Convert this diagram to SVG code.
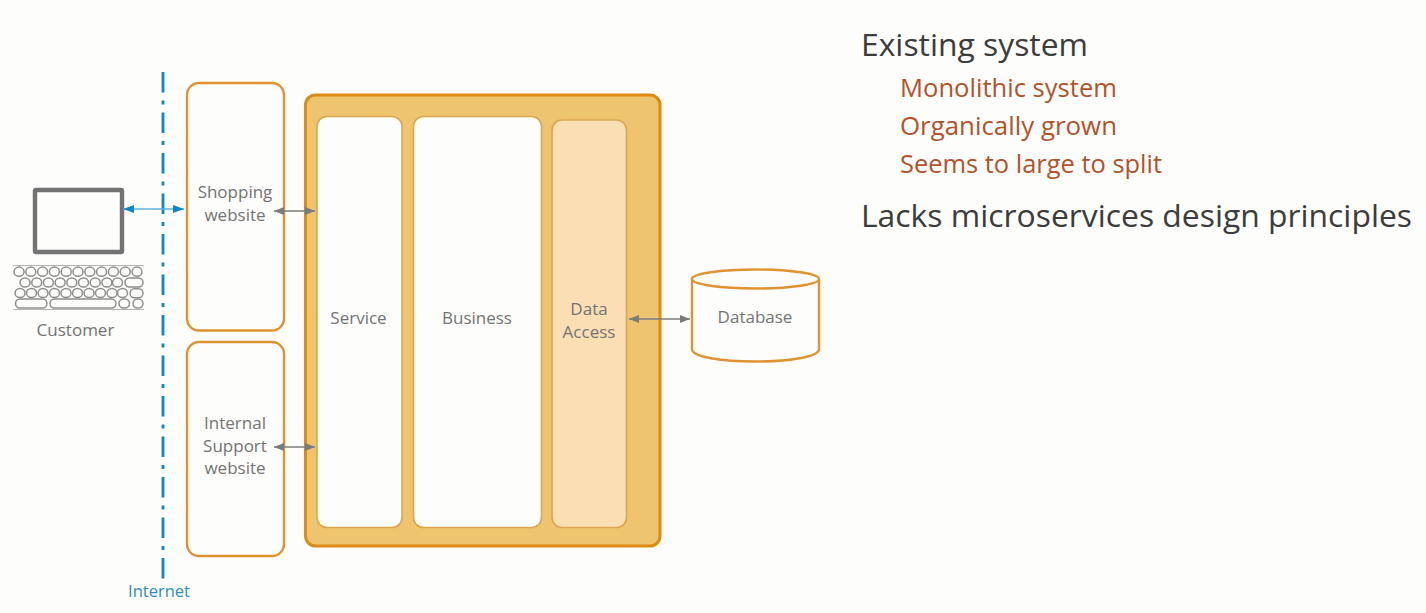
<svg xmlns="http://www.w3.org/2000/svg" width="1426" height="613" viewBox="0 0 1426 613">
<style>
text{font-family:"Open Sans","Noto Sans","Liberation Sans",sans-serif}
.l{font-size:17px;fill:#737373;text-anchor:middle}
.box{fill:#fdfdfc;stroke:#e0922f;stroke-width:2.4}
.inner{fill:#fdfdfc;stroke:#dca64c;stroke-width:1.6}
.h{font-size:31.500px;fill:#3c3c3c}
.s{font-size:25.700px;fill:#b2532a}
.g{stroke:#7b7b7b;stroke-width:1.500;fill:none;marker-start:url(#ga);marker-end:url(#ga)}
.k{fill:#fdfdfc;stroke:#8e8e8e;stroke-width:1.500}
</style>
<defs>
<marker id="ga" viewBox="0 0 10 8" refX="10" refY="4" markerWidth="10" markerHeight="8" markerUnits="userSpaceOnUse" orient="auto-start-reverse"><path d="M0 0L10 4L0 8z" fill="#7b7b7b"/></marker>
<marker id="ba" viewBox="0 0 11 8" refX="11" refY="4" markerWidth="11" markerHeight="8" markerUnits="userSpaceOnUse" orient="auto-start-reverse"><path d="M0 0L11 4L0 8z" fill="#0f86c6"/></marker>
<ellipse id="key" rx="5" ry="4.600" class="k"/>
</defs>
<rect width="1426" height="613" fill="#fdfdfc"/>
<g id="customer">
<rect x="35" y="190" width="87" height="62" fill="#fdfdfc" stroke="#737373" stroke-width="4.400" rx="1"/>
<g id="keyboard">
<path d="M13 265.500H144M13 309.500H144" stroke="#b5b5b5" stroke-width="1.200"/>
<use href="#key" x="19" y="271.700"/><use href="#key" x="30.800" y="271.700"/><use href="#key" x="42.600" y="271.700"/><use href="#key" x="54.400" y="271.700"/><use href="#key" x="66.200" y="271.700"/><use href="#key" x="78" y="271.700"/><use href="#key" x="89.800" y="271.700"/><use href="#key" x="101.600" y="271.700"/><use href="#key" x="113.400" y="271.700"/><use href="#key" x="125.200" y="271.700"/><use href="#key" x="137" y="271.700"/>
<use href="#key" x="25" y="282.500"/><use href="#key" x="36.700" y="282.500"/><use href="#key" x="48.400" y="282.500"/><use href="#key" x="60.100" y="282.500"/><use href="#key" x="71.800" y="282.500"/><use href="#key" x="83.500" y="282.500"/><use href="#key" x="95.200" y="282.500"/><use href="#key" x="106.900" y="282.500"/><use href="#key" x="117.500" y="282.500"/>
<rect x="125" y="278" width="18" height="9" rx="4.500" class="k"/>
<use href="#key" x="20" y="293"/><use href="#key" x="31.500" y="293"/><use href="#key" x="43" y="293"/><use href="#key" x="54.500" y="293"/><use href="#key" x="66" y="293"/><use href="#key" x="77.500" y="293"/><use href="#key" x="89" y="293"/><use href="#key" x="100.500" y="293"/><use href="#key" x="112" y="293"/><use href="#key" x="122.500" y="293"/>
<rect x="130" y="288.700" width="13" height="9" rx="4.500" class="k"/>
<rect x="15.500" y="299" width="31.500" height="9" rx="4.500" class="k"/>
<rect x="50" y="299" width="66" height="9" rx="4.500" class="k"/>
<rect x="119" y="299" width="10.500" height="9" rx="4.500" class="k"/>
<rect x="133" y="299" width="10" height="9" rx="4.500" class="k"/>
</g>
<text class="l" x="75.500" y="336">Customer</text>
</g>
<g id="internet">
<line x1="163" y1="72" x2="163" y2="579" stroke="#0f86c6" stroke-width="2.800" stroke-dasharray="20.500 8 4 8"/>
<text x="159" y="597" font-size="16.500" fill="#2d8dbd" text-anchor="middle">Internet</text>
</g>
<g id="shopping">
<rect class="box" x="187" y="83" width="97" height="247.500" rx="12"/>
<text class="l" x="235" y="198">Shopping</text><text class="l" x="235" y="221">website</text>
</g>
<g id="support">
<rect class="box" x="187" y="342" width="97" height="214" rx="12"/>
<text class="l" x="235" y="429">Internal</text><text class="l" x="235" y="452">Support</text><text class="l" x="235" y="474">website</text>
</g>
<g id="monolith">
<rect x="305.500" y="95" width="354.500" height="451" rx="10" fill="#eec46f" stroke="#de8a14" stroke-width="3"/>
</g>
<g id="service">
<rect class="inner" x="317" y="116.500" width="85" height="411" rx="10"/>
<text class="l" x="358.500" y="324">Service</text>
</g>
<g id="business">
<rect class="inner" x="413.500" y="116.500" width="128" height="411" rx="10"/>
<text class="l" x="477" y="324">Business</text>
</g>
<g id="data-access">
<rect x="552" y="120" width="74.500" height="407.500" rx="10" fill="#fbdeb4" stroke="#dca64c" stroke-width="1.600"/>
<text class="l" x="589" y="315">Data</text><text class="l" x="589" y="338">Access</text>
</g>
<g id="database">
<path d="M692 279V349C692 357 722 361.500 755.500 361.500S819 357 819 349V279" fill="#fdfdfc" stroke="#e0922f" stroke-width="2.400"/>
<ellipse cx="755.500" cy="279" rx="63.500" ry="9.500" fill="#fdfdfc" stroke="#e0922f" stroke-width="2.400"/>
<text class="l" x="755" y="323">Database</text>
</g>
<g id="connectors">
<line x1="123" y1="209" x2="184" y2="209" stroke="#5fb0dc" stroke-width="1.500" marker-start="url(#ba)" marker-end="url(#ba)"/>
<line class="g" x1="274" y1="211" x2="315" y2="211"/>
<line class="g" x1="274" y1="447" x2="315" y2="447"/>
<line class="g" x1="629" y1="319" x2="690" y2="319"/>
</g>
<g id="notes">
<text class="h" x="861" y="56" textLength="227" lengthAdjust="spacingAndGlyphs">Existing system</text>
<text class="s" x="900" y="97" textLength="217" lengthAdjust="spacingAndGlyphs">Monolithic system</text>
<text class="s" x="900" y="135" textLength="217" lengthAdjust="spacingAndGlyphs">Organically grown</text>
<text class="s" x="900" y="173" textLength="262" lengthAdjust="spacingAndGlyphs">Seems to large to split</text>
<text class="h" x="861" y="227" textLength="551" lengthAdjust="spacingAndGlyphs">Lacks microservices design principles</text>
</g>
</svg>
